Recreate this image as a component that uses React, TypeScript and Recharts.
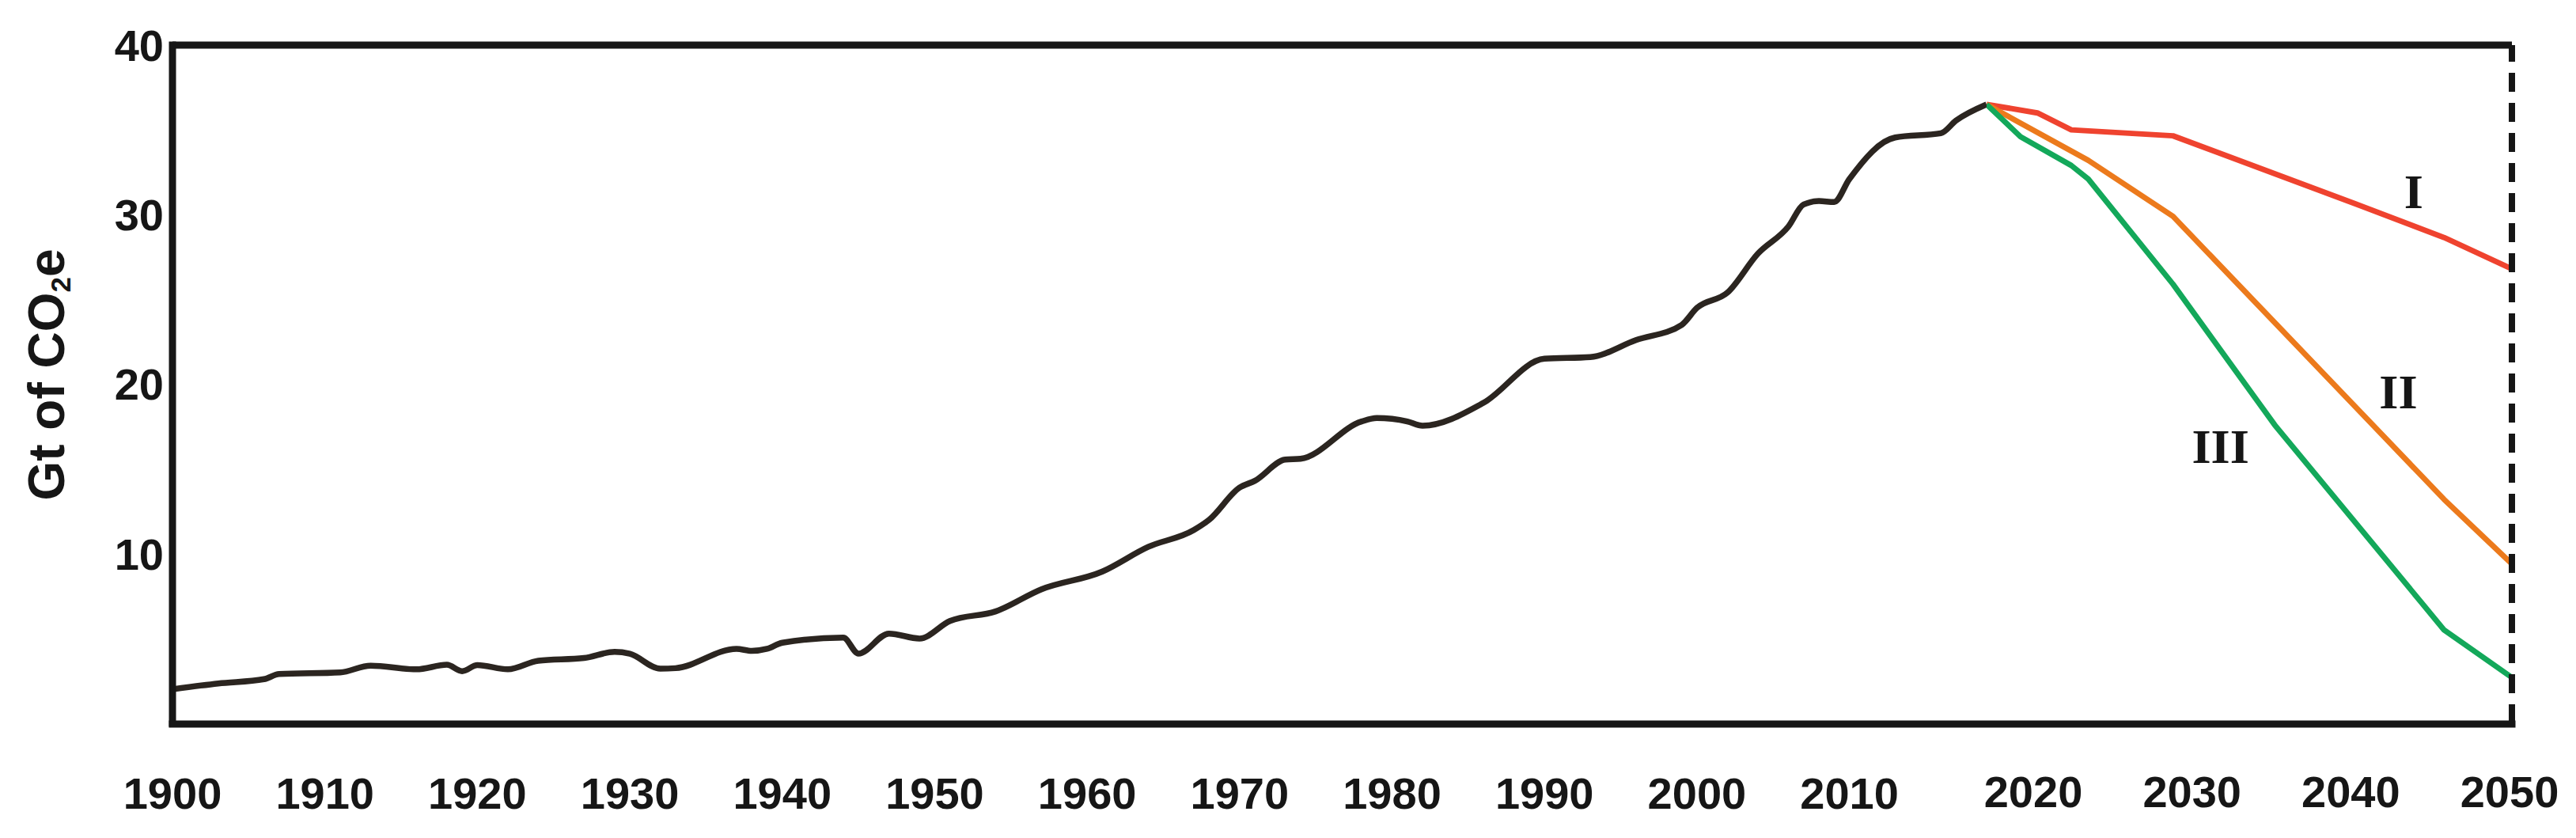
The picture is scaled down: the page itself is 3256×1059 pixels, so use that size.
import React from 'react';
import { LineChart, Line, XAxis, YAxis, ReferenceLine, ReferenceDot } from 'recharts';

// historical emissions (Gt CO2e)
const histYears = [
  1900, 1903, 1906, 1907, 1911, 1913, 1916, 1918, 1919, 1920, 1922, 1924, 1927, 1929, 1930,
  1932, 1933, 1937, 1938, 1939, 1940, 1944, 1945, 1947, 1949, 1951, 1954, 1957, 1961, 1964,
  1967, 1968, 1970, 1971, 1973, 1974, 1978, 1979, 1981, 1982, 1986, 1990, 1993, 1996, 1999,
  2000, 2002, 2004, 2006, 2007, 2008, 2009, 2010, 2013, 2016, 2017, 2019,
];
const histValues = [
  2.0, 2.35, 2.6, 2.9, 3.0, 3.4, 3.18, 3.45, 3.07, 3.43, 3.18, 3.69, 3.85, 4.21, 4.1,
  3.22, 3.25, 4.39, 4.27, 4.39, 4.75, 5.05, 4.11, 5.29, 5.0, 6.03, 6.6, 7.9, 8.95, 10.4,
  11.4, 12.0, 13.9, 14.3, 15.55, 15.6, 17.8, 18.0, 17.8, 17.55, 18.9, 21.5, 21.6, 22.6, 23.5,
  24.5, 25.4, 27.7, 29.3, 30.6, 30.8, 30.75, 32.1, 34.55, 34.8, 35.55, 36.5,
];

// scenario pathways
const scenIYears = [2019, 2022, 2024, 2030, 2041, 2046, 2050];
const scenIValues = [36.5, 36.0, 35.0, 34.65, 30.55, 28.65, 26.8];

const scenIIYears = [2019, 2025, 2030, 2046, 2050];
const scenIIValues = [36.5, 33.2, 29.9, 13.2, 9.4];

const scenIIIYears = [2019, 2021, 2024, 2025, 2030, 2036, 2046, 2050];
const scenIIIValues = [36.5, 34.6, 32.9, 32.1, 25.9, 17.6, 5.5, 2.7];

const histTicks = [1900, 1910, 1920, 1930, 1940, 1950, 1960, 1970, 1980, 1990, 2000, 2010];
const futureTicks = [2020, 2030, 2040, 2050];
const valueTicks = [10, 20, 30, 40];

const scenarioNames = ['I', 'II', 'III'];
const nameYears = [2044.2, 2043.3, 2032.8];
const nameValues = [31.4, 19.6, 16.4];

const toRows = (years: number[], values: number[]) =>
  years.map((year, i) => ({ year, value: values[i] }));

const histData = toRows(histYears, histValues);
const scenarios = [
  { name: 'I', color: '#EF432F', data: toRows(scenIYears, scenIValues) },
  { name: 'II', color: '#EC7A1C', data: toRows(scenIIYears, scenIIValues) },
  { name: 'III', color: '#13A85A', data: toRows(scenIIIYears, scenIIIValues) },
];

const SANS = '"Liberation Sans", Arial, sans-serif';
const SERIF = '"Liberation Serif", "Times New Roman", serif';
const INK = '#161616';

const tickStyle = { fontFamily: SANS, fontSize: 56, fontWeight: 700, fill: INK };
const frameLine = { stroke: INK, strokeWidth: 9, strokeLinecap: 'square' as const };

function YTitle(props: any) {
  const { viewBox } = props;
  const x = viewBox.x + 81;
  const y = viewBox.y + viewBox.height / 2 - 12;
  return (
    <text
      transform={`translate(${x}, ${y}) rotate(-90)`}
      textAnchor="middle"
      fontFamily={SANS}
      fontWeight={700}
      fontSize={64}
      fill={INK}
    >
      Gt of CO
      <tspan fontSize={35} dy={8}>2</tspan>
      <tspan dy={-8}>e</tspan>
    </text>
  );
}

export default function App() {
  return (
    <div style={{ position: 'absolute', left: 0, top: 0, background: '#fff' }}>
      <LineChart width={3256} height={1059} margin={{ top: 57, right: 81, bottom: 143, left: 0 }}>
        <XAxis
          xAxisId="hist"
          type="number"
          dataKey="year"
          domain={[1900, 2019]}
          allowDataOverflow
          padding={{ left: 0, right: 664 }}
          ticks={histTicks}
          interval={0}
          height={1}
          tickSize={0}
          tickMargin={67}
          tickLine={false}
          axisLine={frameLine}
          tick={tickStyle}
        />
        <XAxis
          xAxisId="future"
          type="number"
          dataKey="year"
          domain={[2020, 2050]}
          allowDataOverflow
          padding={{ left: 2352, right: 3 }}
          ticks={futureTicks}
          interval={0}
          height={1}
          tickSize={0}
          tickMargin={66}
          tickLine={false}
          axisLine={false}
          tick={tickStyle}
        />
        <XAxis
          xAxisId="proj"
          type="number"
          dataKey="year"
          domain={[2019, 2050]}
          allowDataOverflow
          padding={{ left: 2293, right: 0 }}
          height={1}
          hide
        />
        <YAxis
          yAxisId="left"
          type="number"
          domain={[0, 40]}
          allowDataOverflow
          ticks={valueTicks}
          interval={0}
          width={218}
          tickSize={0}
          tickMargin={11}
          tickLine={false}
          axisLine={frameLine}
          tick={tickStyle}
          label={<YTitle />}
        />

        <Line
          xAxisId="hist"
          yAxisId="left"
          data={histData}
          dataKey="value"
          type="monotone"
          stroke="#2B2520"
          strokeWidth={7.5}
          strokeLinejoin="round"
          dot={false}
          activeDot={false}
          isAnimationActive={false}
        />
        {scenarios.map((s) => (
          <Line
            key={s.name}
            xAxisId="proj"
            yAxisId="left"
            data={s.data}
            dataKey="value"
            type="linear"
            stroke={s.color}
            strokeWidth={7}
            strokeLinejoin="round"
            dot={false}
            activeDot={false}
            isAnimationActive={false}
          />
        ))}

        <ReferenceLine xAxisId="hist" yAxisId="left" y={40} stroke={INK} strokeWidth={9} ifOverflow="visible" />
        <ReferenceLine
          xAxisId="proj"
          yAxisId="left"
          x={2050}
          stroke={INK}
          strokeWidth={8}
          strokeDasharray="24 14"
          ifOverflow="visible"
        />

        {scenarioNames.map((name, i) => (
          <ReferenceDot
            key={name}
            xAxisId="proj"
            yAxisId="left"
            x={nameYears[i]}
            y={nameValues[i]}
            r={0}
            fill="none"
            stroke="none"
            ifOverflow="visible"
            label={{ value: name, position: 'center', fontFamily: SERIF, fontSize: 62, fontWeight: 700, fill: INK }}
          />
        ))}
      </LineChart>
    </div>
  );
}
